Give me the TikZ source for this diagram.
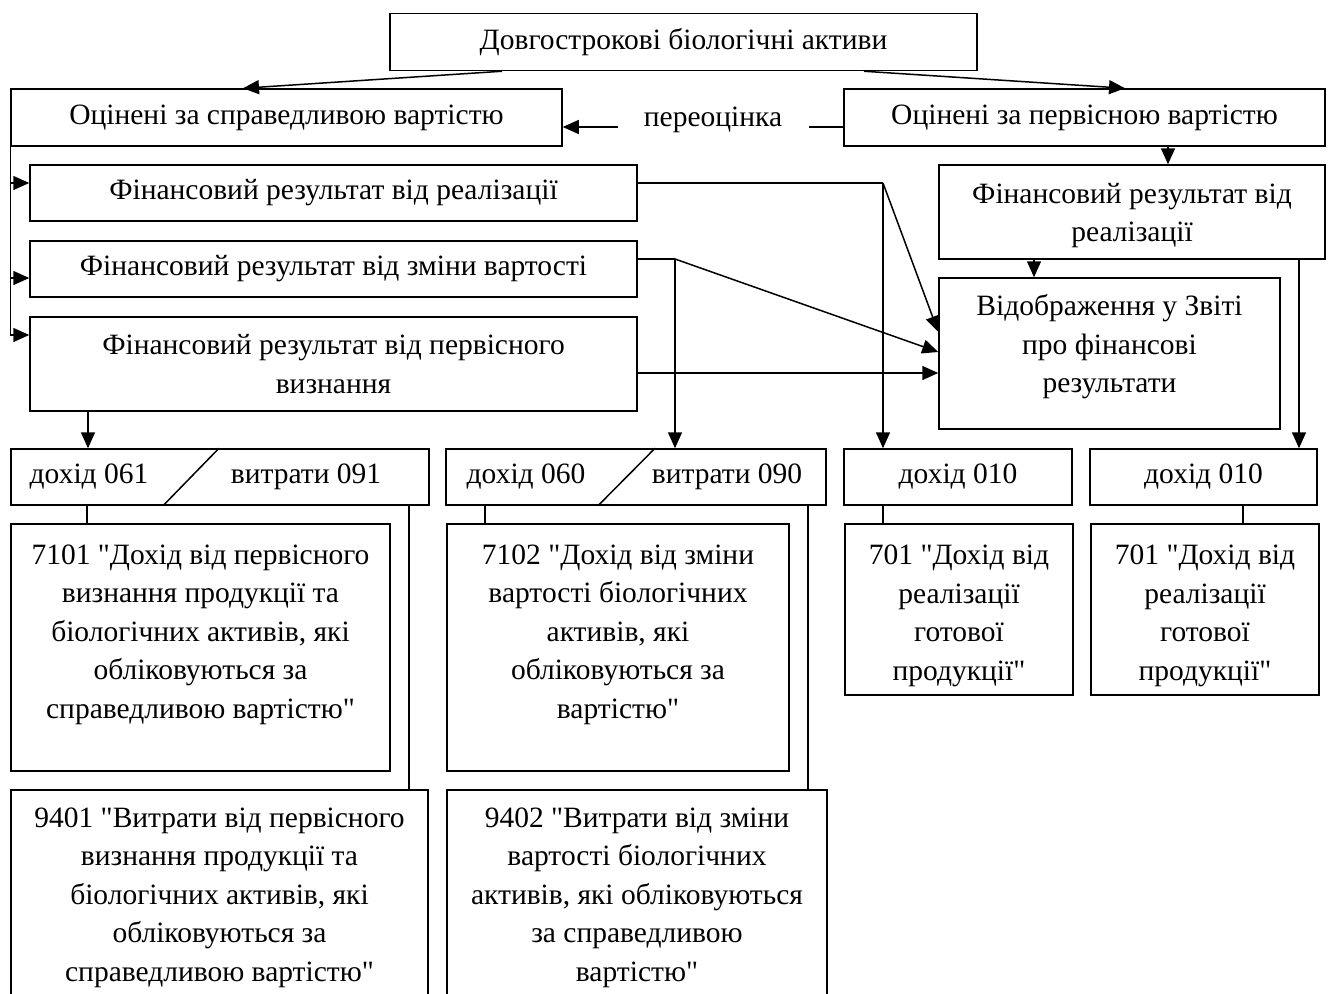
\documentclass[tikz,border=0pt]{standalone}
\usepackage{fontspec}
\setmainfont{Liberation Serif}[Ligatures=TeXOff]
\usetikzlibrary{arrows.meta,calc,positioning}

\begin{document}
\begin{tikzpicture}[x=1pt, y=-1pt, line width=1.5pt,
		every node/.style={font=\fontsize{29.5}{38.5}\selectfont, align=center},
		box/.style={draw, rectangle, inner sep=0pt},
		arr/.style={-{Triangle[length=16pt,width=14pt]}}]
	\useasboundingbox (0,0) rectangle (1330,993);
	\clip (0,0) rectangle (1330,993);
	% valuation
	\node (top) [box, minimum width=587pt, minimum height=57pt] at (683.5,42) {Довгострокові біологічні активи};
	\node (fair) [box, minimum width=551pt, minimum height=57pt] at (286.5,117.5) {Оцінені за справедливою вартістю};
	\node (cost) [box, minimum width=481pt, minimum height=57pt] at (1084.5,117.5) {Оцінені за первісною вартістю};
	\node (reval) at (713,120) {переоцінка};
	\coordinate (revR) at (809,127);
	\coordinate (revL) at (618,127);
	% results
	\node (f1) [box, minimum width=607pt, minimum height=56pt] at (333.5,193) {Фінансовий результат від реалізації};
	\node (f2) [box, minimum width=607pt, minimum height=56pt] at (333.5,269) {Фінансовий результат від зміни вартості};
	\node (f3) [box, minimum width=607pt, minimum height=94pt] at (333.5,364) {Фінансовий результат від первісного\\ визнання};
	\node (fr) [box, minimum width=386pt, minimum height=94pt, text height=66pt] at (1132,212) {Фінансовий результат від\\ реалізації};
	\node (rep) [box, minimum width=341pt, minimum height=151pt, text depth=20pt] at (1109.5,353.5) {Відображення у Звіті\\ про фінансові\\ результати};
	% income / expense codes
	\node (dA) [box, minimum width=418pt, minimum height=56pt] at (220,477) {};
	\node (inc061) at (89,477) {дохід 061};
	\node (exp091) at (306,477) {витрати 091};
	\node (dB) [box, minimum width=380pt, minimum height=56pt] at (636,477) {};
	\node (inc060) at (526,477) {дохід 060};
	\node (exp090) at (727,477) {витрати 090};
	\node (d1) [box, minimum width=228pt, minimum height=56pt] at (958,477) {дохід 010};
	\node (d2) [box, minimum width=227pt, minimum height=56pt] at (1203.5,477) {дохід 010};
	% accounts
	\node (k7101) [box, minimum width=379pt, minimum height=247pt, text depth=32pt] at (200.5,647.5) {7101 "Дохід від первісного\\ визнання продукції та\\ біологічних активів, які\\ обліковуються за\\ справедливою вартістю"};
	\node (k7102) [box, minimum width=342pt, minimum height=247pt, text depth=32pt] at (618,647.5) {7102 "Дохід від зміни\\ вартості біологічних\\ активів, які\\ обліковуються за\\ вартістю"};
	\node (k701a) [box, minimum width=228pt, minimum height=171pt, text height=148pt] at (959,609.5) {701 "Дохід від\\ реалізації\\ готової\\ продукції"};
	\node (k701b) [box, minimum width=228pt, minimum height=171pt, text height=148pt] at (1205,609.5) {701 "Дохід від\\ реалізації\\ готової\\ продукції"};
	\node (k9401) [box, anchor=north, minimum width=417pt, inner ysep=18pt] at (219.5,789) {9401 "Витрати від первісного\\ визнання продукції та\\ біологічних активів, які\\ обліковуються за\\ справедливою вартістю"};
	\node (k9402) [box, anchor=north, minimum width=380pt, inner ysep=18pt] at (637,789) {9402 "Витрати від зміни\\ вартості біологічних\\ активів, які обліковуються\\ за справедливою\\ вартістю"};
	% connectors
	\draw[arr] (top.south -| 502,0) -- (fair.north -| 243,0);
	\draw[arr] (top.south -| 864,0) -- (cost.north -| 1125,0);
	\draw (cost.west |- revR) -- (revR);
	\draw[arr] (revL) -- (fair.east |- revL);
	\draw[arr] (cost.south -| 1168,0) -- (fr.north -| 1168,0);
	\draw[arr] (fair.south west) |- (f3.west |- 0,335);
	\foreach \y/\n in {183/f1, 278/f2}
		\draw[arr] (fair.south west |- 0,\y) -- (\n.west |- 0,\y);
	\draw (f1.east |- 0,183) -- (883,183) coordinate (j1);
	\draw[arr] (j1) -- (rep.west |- 0,332);
	\draw[arr] (j1) -- (d1.north -| j1);
	\draw (f2.east |- 0,259) -- (675,259) coordinate (j2);
	\draw[arr] (j2) -- (rep.west |- 0,352);
	\draw[arr] (j2) -- (dB.north -| j2);
	\draw[arr] (f3.east |- 0,373) -- (rep.west |- 0,373);
	\draw[arr] (f3.south -| 88,0) -- (dA.north -| 88,0);
	\draw[arr] (fr.south -| 1034,0) -- (rep.north -| 1034,0);
	\draw[arr] (fr.south -| 1299,0) -- (d2.north -| 1299,0);
	% split boxes
	\draw (dA.north -| 219,0) -- (dA.south -| 163,0);
	\draw (dB.north -| 655,0) -- (dB.south -| 598,0);
	\foreach \a/\b/\x in {dA/k7101/87, dA/k9401/409, dB/k7102/485, dB/k9402/808, d1/k701a/883, d2/k701b/1243}
		\draw (\a.south -| \x,0) -- (\b.north -| \x,0);
\end{tikzpicture}
\end{document}
